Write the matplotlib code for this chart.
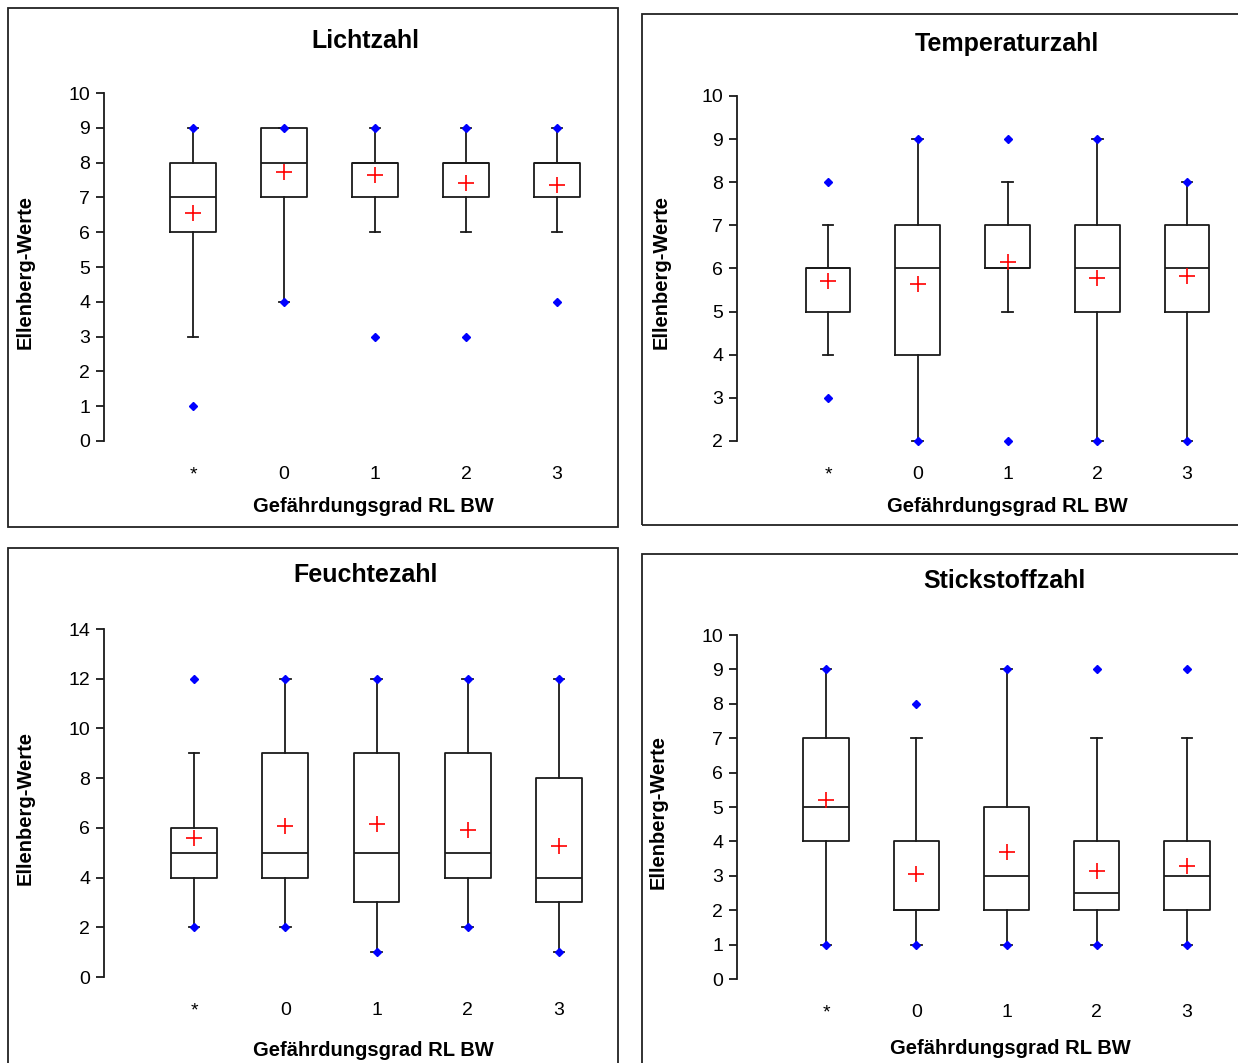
import numpy as np
import matplotlib
matplotlib.use("Agg")
import matplotlib.pyplot as plt
from matplotlib.patches import Rectangle

plt.rcParams['font.family'] = ['Liberation Sans', 'DejaVu Sans']

W, H = 1238, 1063

categories = ['*', '0', '1', '2', '3']

# Lichtzahl
licht_q1 = [6, 7, 7, 7, 7]
licht_med = [7, 8, 8, 8, 8]
licht_q3 = [8, 9, 8, 8, 8]
licht_wlo = [3, 4, 6, 6, 6]
licht_whi = [9, 9, 9, 9, 9]
licht_min = [1, 4, 3, 3, 4]
licht_max = [9, 9, 9, 9, 9]
licht_mean = [6.55, 7.72, 7.63, 7.40, 7.35]

# Temperaturzahl
temp_q1 = [5, 4, 6, 5, 5]
temp_med = [6, 6, 6, 6, 6]
temp_q3 = [6, 7, 7, 7, 7]
temp_wlo = [4, 2, 5, 2, 2]
temp_whi = [7, 9, 8, 9, 8]
temp_min = [3, 2, 2, 2, 2]
temp_max = [8, 9, 9, 9, 8]
temp_mean = [5.72, 5.65, 6.15, 5.78, 5.82]

# Feuchtezahl
feucht_q1 = [4, 4, 3, 4, 3]
feucht_med = [5, 5, 5, 5, 4]
feucht_q3 = [6, 9, 9, 9, 8]
feucht_wlo = [2, 2, 1, 2, 1]
feucht_whi = [9, 12, 12, 12, 12]
feucht_min = [2, 2, 1, 2, 1]
feucht_max = [12, 12, 12, 12, 12]
feucht_mean = [5.58, 6.07, 6.15, 5.90, 5.28]

# Stickstoffzahl
stick_q1 = [4, 2, 2, 2, 2]
stick_med = [5, 2, 3, 2.5, 3]
stick_q3 = [7, 4, 5, 4, 4]
stick_wlo = [1, 1, 1, 1, 1]
stick_whi = [9, 7, 9, 7, 7]
stick_min = [1, 1, 1, 1, 1]
stick_max = [9, 8, 9, 9, 9]
stick_mean = [5.20, 3.05, 3.70, 3.13, 3.28]


def fx(px):
    return px / W


def fy(py):
    return 1 - py / H


fig = plt.figure(figsize=(W / 100, H / 100), dpi=100)


def panel(title, q1, med, q3, wlo, whi, vmin, vmax, mean,
          yticks, y_top_px, y_bot_px, spine_px, star_px, three_px,
          title_xy, xlabel_xy, ylabel_xy, frame):
    # frame around panel
    fx0, fy0, fx1, fy1 = frame
    fig.add_artist(Rectangle((fx(fx0), fy(fy1)), fx(fx1) - fx(fx0), fy(fy0) - fy(fy1),
                             transform=fig.transFigure, fill=False,
                             edgecolor='#222222', linewidth=1.3))
    unit = (three_px - star_px) / 4.0
    xmin = 1 - (star_px - spine_px) / unit
    xmax = 5.6
    ax = fig.add_axes([fx(spine_px), fy(y_bot_px), (xmax - xmin) * unit / W,
                       (y_bot_px - y_top_px) / H])
    stats = []
    for i in range(len(categories)):
        stats.append(dict(med=med[i], q1=q1[i], q3=q3[i], whislo=wlo[i],
                          whishi=whi[i], mean=mean[i], fliers=[]))
    pos = np.arange(1, len(categories) + 1)
    lc = '#1a1a1a'
    arts = ax.bxp(stats, positions=pos, widths=0.5, capwidths=0.12, showmeans=True,
                  boxprops=dict(color=lc, linewidth=1.3),
                  medianprops=dict(color=lc, linewidth=1.3),
                  whiskerprops=dict(color=lc, linewidth=1.3),
                  capprops=dict(color=lc, linewidth=1.3),
                  meanprops=dict(marker='+', markeredgecolor='red', markersize=11,
                                 markeredgewidth=1.2))
    for group in arts.values():
        for a in group:
            a.set_clip_on(False)
    ax.plot(pos, vmin, linestyle='none', marker='D', color='#0000ff',
            markersize=4.5, zorder=5, clip_on=False)
    ax.plot(pos, vmax, linestyle='none', marker='D', color='#0000ff',
            markersize=4.5, zorder=5, clip_on=False)
    ax.set_xlim(xmin, xmax)
    ax.set_ylim(yticks[0], yticks[-1])
    ax.set_yticks(yticks)
    ax.set_xticks(pos)
    ax.set_xticklabels(categories)
    for s in ['top', 'right', 'bottom']:
        ax.spines[s].set_visible(False)
    ax.spines['left'].set_linewidth(1.3)
    ax.spines['left'].set_color(lc)
    ax.tick_params(axis='y', direction='out', length=6, width=1.3, color=lc,
                   labelsize=14, pad=4)
    ax.tick_params(axis='x', length=0, labelsize=14, pad=18)
    ax.patch.set_alpha(0)
    fig.text(fx(title_xy[0]), fy(title_xy[1]), title, ha='center', va='center',
             fontsize=18, fontweight='bold')
    fig.text(fx(xlabel_xy[0]), fy(xlabel_xy[1]), 'Gefährdungsgrad RL BW',
             ha='center', va='center', fontsize=14.5, fontweight='bold')
    fig.text(fx(ylabel_xy[0]), fy(ylabel_xy[1]), 'Ellenberg-Werte',
             ha='center', va='center', rotation=90, fontsize=14.5,
             fontweight='bold')
    return ax


panel('Lichtzahl', licht_q1, licht_med, licht_q3, licht_wlo, licht_whi,
      licht_min, licht_max, licht_mean, list(range(0, 11)), 93, 441, 104, 193, 557,
      (365, 41), (373, 506), (25, 272), (8, 8, 618, 527))
panel('Temperaturzahl', temp_q1, temp_med, temp_q3, temp_wlo, temp_whi,
      temp_min, temp_max, temp_mean, list(range(2, 11)), 96, 441, 737, 828, 1187,
      (1007, 44), (1007, 506), (661, 272), (642, 14, 1260, 525))
panel('Feuchtezahl', feucht_q1, feucht_med, feucht_q3, feucht_wlo, feucht_whi,
      feucht_min, feucht_max, feucht_mean, list(range(0, 15, 2)), 629, 977, 104, 194, 559,
      (366, 575), (373, 1050), (25, 808), (8, 548, 618, 1080))
panel('Stickstoffzahl', stick_q1, stick_med, stick_q3, stick_wlo, stick_whi,
      stick_min, stick_max, stick_mean, list(range(0, 11)), 635, 979, 737, 826, 1187,
      (1004, 581), (1010, 1048), (658, 812), (642, 554, 1260, 1080))

fig.savefig('out.png', dpi=100)
